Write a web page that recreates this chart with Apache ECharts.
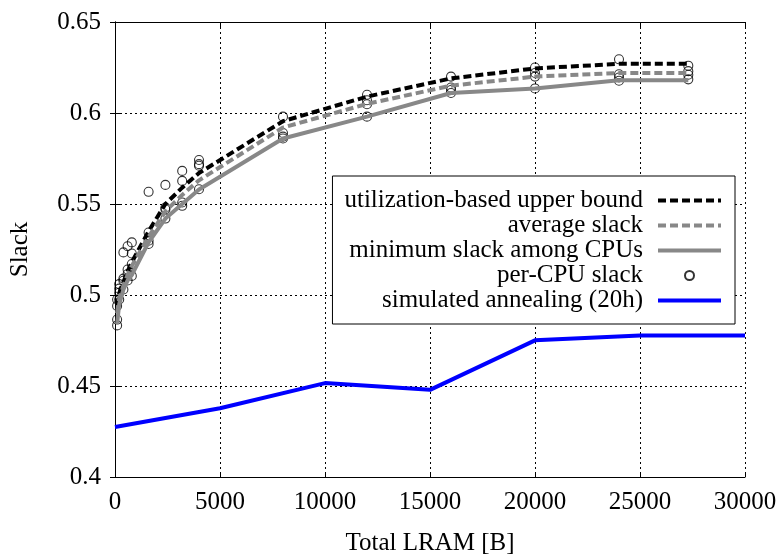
<!DOCTYPE html>
<html>
<head>
<meta charset="utf-8">
<script src="https://cdn.jsdelivr.net/npm/echarts@6/dist/echarts.min.js"></script>
<style>html,body{margin:0;padding:0;background:#fff}#c{width:779px;height:554px}</style>
</head>
<body>
<div id="c"></div>
<script>
// ---- data ----
const xTicks = [0, 5000, 10000, 15000, 20000, 25000, 30000];
const yTicks = [0.4, 0.45, 0.5, 0.55, 0.6, 0.65];

const lramX = [100, 200, 400, 600, 800, 1600, 2400, 3200, 4000, 8000, 12000, 16000, 20000, 24000, 27300];
const upperBound = [0.494, 0.501, 0.507, 0.513, 0.518, 0.535, 0.550, 0.559, 0.567, 0.5955, 0.609, 0.619, 0.6245, 0.627, 0.627];
const averageSlack = [0.490, 0.498, 0.505, 0.511, 0.516, 0.532, 0.546, 0.555, 0.563, 0.592, 0.605, 0.615, 0.620, 0.622, 0.622];
const minimumSlack = [0.484, 0.495, 0.503, 0.508, 0.511, 0.529, 0.542, 0.550, 0.558, 0.586, 0.598, 0.611, 0.6135, 0.618, 0.618];

const perCpuSlack = [
  [0.4833, 0.4865, 0.494, 0.4975],
  [0.4975, 0.5012, 0.5035, 0.506],
  [0.503, 0.5078, 0.509, 0.5234],
  [0.508, 0.5115, 0.514, 0.5268],
  [0.5105, 0.517, 0.5228, 0.5289],
  [0.528, 0.5298, 0.5343, 0.5567],
  [0.542, 0.5471, 0.548, 0.5605],
  [0.549, 0.5508, 0.5627, 0.5682],
  [0.5581, 0.571, 0.5719, 0.5742],
  [0.586, 0.587, 0.589, 0.598],
  [0.598, 0.6048, 0.607, 0.610],
  [0.611, 0.6126, 0.614, 0.620],
  [0.6135, 0.620, 0.622, 0.625],
  [0.6177, 0.6195, 0.6213, 0.6295],
  [0.6185, 0.621, 0.623, 0.626]
];

const saX = [0, 5000, 10000, 15000, 20000, 25000, 30000];
const saSlack = [0.4275, 0.4378, 0.4516, 0.4479, 0.4751, 0.4777, 0.4777];

const names = ['utilization-based upper bound', 'average slack', 'minimum slack among CPUs', 'per-CPU slack', 'simulated annealing (20h)'];

// ---- build ----
const zip = (xs, ys) => xs.map((x, i) => [x, ys[i]]);
const scatterData = [];
lramX.forEach((x, i) => perCpuSlack[i].forEach(v => scatterData.push([x, v])));

const FONT = '"Liberation Serif", "DejaVu Serif", serif';
const FS = 25;
const chart = echarts.init(document.getElementById('c'), null, {renderer: 'canvas'});

const mirrorAxisCommon = {
  axisLine: {show: true, lineStyle: {color: '#000', width: 1}},
  axisTick: {show: true, inside: true, length: 5, lineStyle: {color: '#000'}},
  axisLabel: {show: false},
  splitLine: {show: false}
};

const lineStyles = [
  {color: '#000', width: 4, type: [8, 4]},
  {color: '#888', width: 4, type: [8, 4]},
  {color: '#888', width: 4, type: 'solid'},
  null,
  {color: '#0000ff', width: 4, type: 'solid'}
];

chart.setOption({
  animation: false,
  backgroundColor: '#fff',
  textStyle: {fontFamily: FONT},
  grid: {left: 115, right: 34, top: 22, bottom: 77, containLabel: false, outerBoundsMode: 'none'},
  xAxis: [{
    type: 'value', min: xTicks[0], max: xTicks[xTicks.length - 1], interval: 5000,
    name: 'Total LRAM [B]', nameLocation: 'middle', nameGap: 54,
    nameTextStyle: {fontFamily: FONT, fontSize: FS, color: '#000'},
    axisLine: {show: true, lineStyle: {color: '#000', width: 1}},
    axisTick: {show: true, inside: true, length: 5, lineStyle: {color: '#000'}},
    axisLabel: {fontFamily: FONT, fontSize: FS, color: '#000', margin: 13,
      formatter: v => String(v)},
    splitLine: {show: true, lineStyle: {color: '#000', width: 1, type: [2, 3]}}
  }, Object.assign({
    type: 'value', position: 'top', min: xTicks[0], max: xTicks[xTicks.length - 1], interval: 5000
  }, mirrorAxisCommon)],
  yAxis: [{
    type: 'value', min: yTicks[0], max: yTicks[yTicks.length - 1], interval: 0.05,
    name: 'Slack', nameLocation: 'middle', nameGap: 82, nameRotate: 90,
    nameTextStyle: {fontFamily: FONT, fontSize: FS, color: '#000'},
    axisLine: {show: true, lineStyle: {color: '#000', width: 1}},
    axisTick: {show: true, inside: true, length: 5, lineStyle: {color: '#000'}},
    axisLabel: {fontFamily: FONT, fontSize: FS, color: '#000', margin: 14,
      formatter: v => String(+v.toFixed(2))},
    splitLine: {show: true, lineStyle: {color: '#000', width: 1, type: [2, 3]}}
  }, Object.assign({
    type: 'value', position: 'right', min: yTicks[0], max: yTicks[yTicks.length - 1], interval: 0.05
  }, mirrorAxisCommon)],
  legend: {
    orient: 'vertical', right: 44, top: 176, align: 'right',
    padding: [12, 12, 11, 12], itemGap: 0, itemWidth: 63, itemHeight: 9,
    backgroundColor: '#fff', borderColor: '#000', borderWidth: 1, borderRadius: 0,
    textStyle: {fontFamily: FONT, fontSize: FS, color: '#000', lineHeight: 25, padding: [0, 10, 0, 0]},
    data: names.map((n, i) => lineStyles[i]
      ? {name: n, itemStyle: {opacity: 0}, lineStyle: Object.assign({opacity: 1}, lineStyles[i])}
      : {name: n})
  },
  series: [
    {name: names[0], type: 'line', data: zip(lramX, upperBound), showSymbol: false, symbol: 'none',
      lineStyle: lineStyles[0], itemStyle: {color: '#000'}},
    {name: names[1], type: 'line', data: zip(lramX, averageSlack), showSymbol: false, symbol: 'none',
      lineStyle: lineStyles[1], itemStyle: {color: '#888'}},
    {name: names[2], type: 'line', data: zip(lramX, minimumSlack), showSymbol: false, symbol: 'none',
      lineStyle: lineStyles[2], itemStyle: {color: '#888'}},
    {name: names[3], type: 'scatter', data: scatterData, symbol: 'circle', symbolSize: 9,
      itemStyle: {color: 'rgba(0,0,0,0)', borderColor: '#000', borderWidth: 1.1}},
    {name: names[4], type: 'line', data: zip(saX, saSlack), showSymbol: false, symbol: 'none',
      lineStyle: lineStyles[4], itemStyle: {color: '#0000ff'}}
  ]
});
</script>
</body>
</html>
